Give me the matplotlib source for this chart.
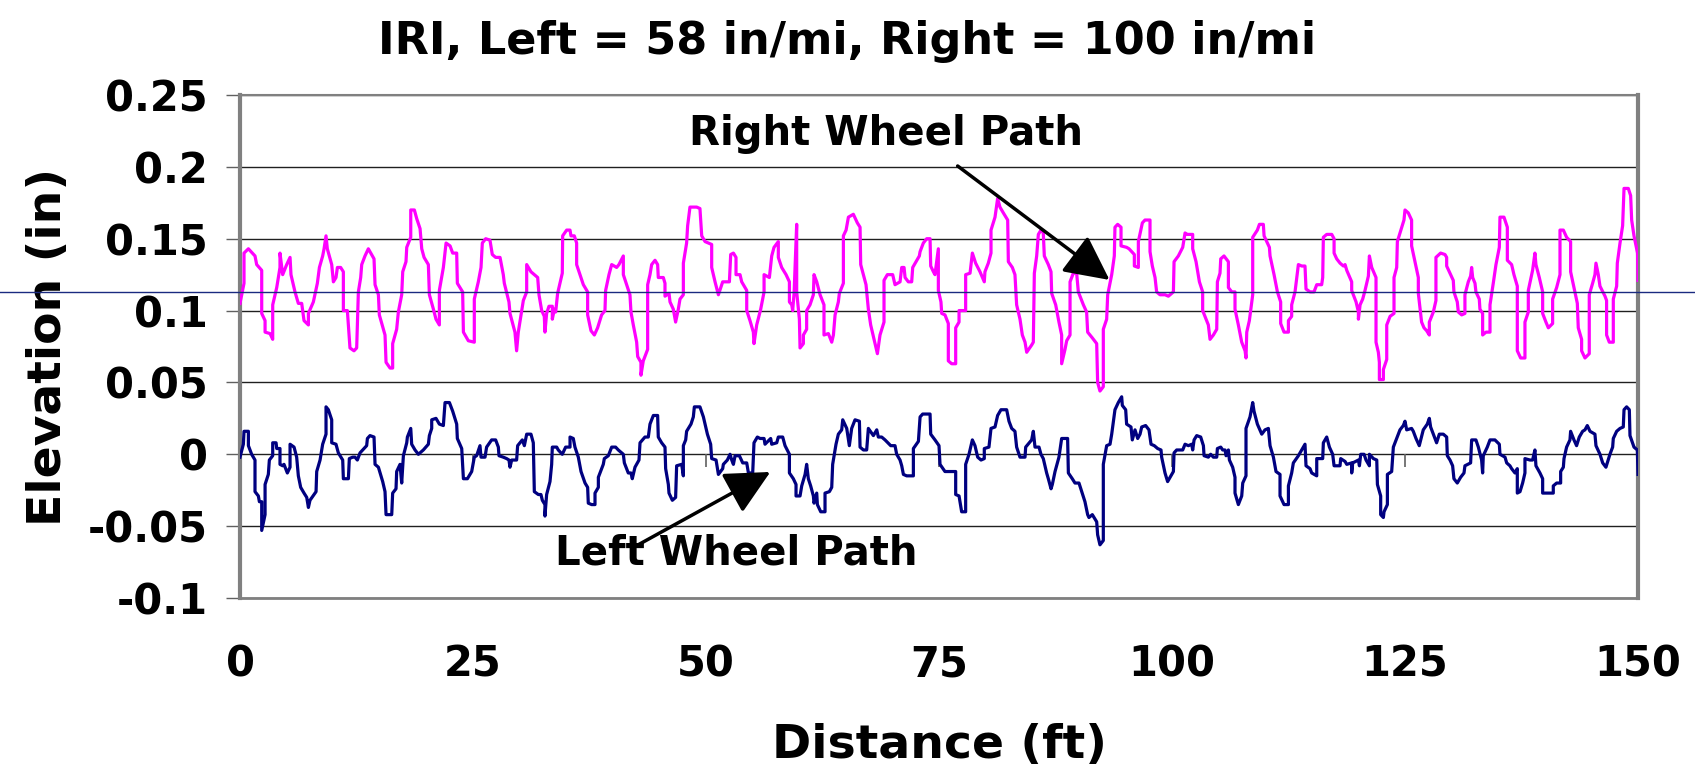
import matplotlib
matplotlib.use('Agg')
import matplotlib.pyplot as plt
from matplotlib.transforms import blended_transform_factory
from matplotlib.lines import Line2D

# Right wheel path profile (distance ft, elevation in)
right_x = [
    0.00, 0.43, 0.43, 0.90, 1.61, 1.79, 2.33, 2.33, 2.69, 2.69, 3.22, 3.51, 3.51, 3.94, 4.29, 4.29,
    4.58, 5.01, 5.37, 5.47, 5.90, 6.26, 6.62, 6.87, 7.34, 7.34, 7.87, 8.30, 8.52, 8.87, 9.02, 9.23,
    9.37, 9.84, 10.02, 10.30, 10.45, 10.80, 11.09, 11.09, 11.52, 11.80, 12.23, 12.52, 12.70, 12.95,
    13.06, 13.41, 13.77, 14.38, 14.49, 14.85, 14.95, 15.56, 15.67, 16.10, 16.38, 16.38, 16.81, 16.99,
    17.35, 17.46, 17.81, 17.89, 18.32, 18.32, 18.71, 18.96, 19.32, 19.50, 19.75, 20.21, 20.32, 20.75,
    21.03, 21.39, 21.39, 21.82, 22.11, 22.54, 22.82, 23.25, 23.32, 23.89, 23.97,
    24.50, 25.14, 25.14, 25.57, 25.86, 26.00, 26.36, 26.82, 27.07, 27.43, 27.90, 28.25, 28.36, 28.86,
    28.97, 29.50, 29.68, 29.86, 30.40, 30.76, 30.76, 31.22, 31.94, 32.08, 32.37, 32.65, 32.72, 32.90,
    33.15, 33.51, 33.51, 33.73, 33.87, 34.08, 34.58, 34.62, 35.05, 35.41, 35.51, 35.87, 36.12, 36.12,
    36.48, 36.84, 37.30, 37.30, 37.66, 38.02, 38.37, 38.80, 39.16, 39.23, 39.59, 39.88, 40.16, 40.41,
    40.66, 41.13, 41.13, 41.49, 41.84, 41.95, 42.20, 42.56, 42.67, 43.02, 43.02, 43.27, 43.74, 43.74,
    43.99, 44.17, 44.53, 44.81, 44.88, 45.42, 45.60, 45.60, 46.03, 46.14, 46.49, 46.74, 47.03, 47.21,
    47.57, 47.57, 47.92, 48.03, 48.28, 49.00, 49.35,
    49.54, 49.90, 50.61, 50.61, 50.97, 51.33, 51.79, 52.51, 52.65, 52.94, 53.22, 53.22, 53.65, 53.83,
    54.37, 54.37, 54.72, 55.08, 55.15, 55.44, 55.87, 56.23, 56.23, 56.80, 57.05, 57.30, 57.76, 57.76,
    58.12, 58.59, 58.95, 58.95, 59.20, 59.30, 59.45, 59.73, 59.73, 60.02, 60.09, 60.45, 60.45, 60.80,
    60.80, 61.16, 61.52, 61.59, 61.88, 62.24, 62.66, 62.66, 63.13, 63.49, 63.67, 63.85, 64.20, 64.31,
    64.74, 64.74, 65.03, 65.28, 65.81, 66.24, 66.53, 66.60, 67.17, 67.42, 67.67, 68.03, 68.39, 68.67,
    69.10, 69.10, 69.46, 70.03, 70.28, 70.82, 71.00, 71.25, 71.36, 71.71, 72.07, 72.18, 72.54, 72.89,
    72.97, 73.32, 73.68, 74.04, 74.11, 74.40, 74.57,
    74.93, 74.93, 75.21, 75.29, 75.64, 76.00, 76.00, 76.36, 76.79, 76.79, 77.15, 77.15, 77.86, 77.86,
    78.33, 78.58, 78.93, 79.40, 79.86, 79.93, 80.29, 80.58, 80.58, 81.01, 81.29, 81.54, 81.90, 82.37,
    82.44, 82.87, 83.15, 83.33, 83.69, 83.94, 84.23, 84.41, 84.94, 85.12, 85.23, 85.48, 85.66, 85.94,
    86.19, 86.30, 86.73, 87.02, 87.09, 87.52, 87.87, 88.16, 88.16, 88.52, 88.70, 89.06, 89.06, 89.41,
    89.77, 89.95, 90.49, 90.84, 90.95, 91.45, 91.92, 92.02, 92.27, 92.63, 92.63, 92.99, 93.10, 93.53,
    93.81, 93.88, 94.17, 94.53, 94.53, 95.13, 95.39, 95.96, 95.96, 96.39, 96.39, 96.82, 97.10, 97.64,
    97.64, 97.89, 98.18, 98.35, 98.71, 99.25, 99.61,
    100.15, 100.22, 100.68, 101.15, 101.40, 101.65, 102.22, 102.22, 102.58, 102.94, 103.29, 103.29,
    103.65, 103.90, 104.08, 104.44, 104.80, 104.87, 105.15, 105.23, 105.58, 106.05, 106.05, 106.41,
    106.76, 106.76, 107.12, 107.48, 107.84, 107.94, 108.02, 108.30, 108.66, 108.66, 109.16, 109.38,
    109.80, 109.88, 110.45, 110.52, 110.95, 111.31, 111.66, 111.66, 112.02, 112.49, 112.49, 112.84,
    112.84, 113.20, 113.56, 113.92, 114.27, 114.38, 114.81, 115.24, 115.53, 116.06, 116.17, 116.24,
    116.60, 117.14, 117.39, 117.39, 117.67, 118.03, 118.39, 118.57, 118.75, 119.28, 119.28, 119.75,
    120.00, 120.00, 120.18, 120.46, 120.71, 121.07, 121.18, 121.43, 121.89, 121.89, 122.14, 122.25,
    122.25, 122.68, 122.68, 123.04, 123.04, 123.40, 123.82, 123.82, 124.11, 124.18,
    124.89, 125.00, 125.35, 125.71, 125.71, 126.07, 126.43, 126.43, 126.78, 127.04, 127.32, 127.61,
    127.61, 128.04, 128.32, 128.32, 128.82, 129.29, 129.47, 129.47, 129.75, 130.18, 130.25, 130.61,
    130.72, 131.08, 131.43, 131.43, 131.79, 132.04, 132.15, 132.26, 132.51, 132.61, 132.97, 133.04,
    133.33, 133.33, 133.69, 134.12, 134.12, 134.47, 134.76, 135.12, 135.19, 135.62, 135.98, 135.98,
    136.44, 136.69, 137.05, 137.05, 137.41, 137.87, 137.87, 138.23, 138.23, 138.69, 138.94, 139.05,
    139.41, 139.77, 139.77, 140.12, 140.38, 140.84, 140.84, 141.27, 141.63, 141.63, 141.99, 142.34,
    142.77, 142.77, 143.13, 143.49, 143.59, 143.95, 143.95, 144.31, 144.77, 144.77, 145.13, 145.38,
    145.49, 145.74, 145.92, 146.46, 146.63, 146.63, 146.92, 147.35, 147.35, 147.71, 147.78, 148.07,
    148.35, 148.50, 148.96, 149.21, 149.32, 149.57, 149.95, 150.00,
]
right_y = [
    0.105, 0.119, 0.140, 0.143, 0.138, 0.132, 0.128, 0.098, 0.093, 0.085, 0.084, 0.080, 0.104, 0.116, 0.130, 0.140,
    0.125, 0.132, 0.137, 0.125, 0.113, 0.105, 0.105, 0.093, 0.090, 0.098, 0.106, 0.119, 0.130, 0.138, 0.143, 0.152,
    0.143, 0.132, 0.120, 0.123, 0.130, 0.130, 0.127, 0.100, 0.100, 0.074, 0.072, 0.074, 0.113, 0.123,
    0.132, 0.138, 0.143, 0.136, 0.118, 0.111, 0.097, 0.083, 0.064, 0.060, 0.060, 0.077, 0.087, 0.099,
    0.111, 0.127, 0.134, 0.144, 0.151, 0.170, 0.170, 0.164, 0.157, 0.143, 0.137, 0.132, 0.111, 0.101,
    0.094, 0.090, 0.114, 0.130, 0.147, 0.145, 0.140, 0.140, 0.119, 0.113, 0.085,
    0.079, 0.078, 0.108, 0.120, 0.130, 0.147, 0.150, 0.149, 0.139, 0.137, 0.137, 0.125, 0.119, 0.106,
    0.098, 0.085, 0.072, 0.085, 0.107, 0.113, 0.132, 0.127, 0.123, 0.111, 0.100, 0.096, 0.085, 0.098,
    0.103, 0.103, 0.094, 0.101, 0.099, 0.112, 0.126, 0.152, 0.156, 0.156, 0.152, 0.152, 0.147, 0.132,
    0.125, 0.118, 0.113, 0.097, 0.086, 0.083, 0.088, 0.097, 0.100, 0.114, 0.125, 0.132, 0.131, 0.130,
    0.132, 0.138, 0.125, 0.118, 0.111, 0.099, 0.090, 0.078, 0.068, 0.064, 0.055, 0.065, 0.073, 0.118,
    0.125, 0.132, 0.135, 0.132, 0.123, 0.123, 0.119, 0.110, 0.112, 0.106, 0.101, 0.092, 0.101, 0.108,
    0.111, 0.133, 0.147, 0.159, 0.172, 0.172, 0.171,
    0.152, 0.148, 0.146, 0.130, 0.120, 0.111, 0.120, 0.120, 0.139, 0.140, 0.137, 0.125, 0.125, 0.120,
    0.114, 0.100, 0.093, 0.085, 0.077, 0.090, 0.101, 0.113, 0.125, 0.123, 0.138, 0.144, 0.148, 0.137,
    0.130, 0.125, 0.120, 0.106, 0.104, 0.100, 0.112, 0.160, 0.113, 0.094, 0.074, 0.077, 0.083, 0.087,
    0.100, 0.104, 0.111, 0.125, 0.120, 0.111, 0.104, 0.083, 0.084, 0.078, 0.083, 0.097, 0.106, 0.112,
    0.119, 0.152, 0.156, 0.165, 0.167, 0.161, 0.158, 0.132, 0.118, 0.101, 0.090, 0.080, 0.070, 0.083,
    0.092, 0.121, 0.125, 0.125, 0.118, 0.120, 0.130, 0.130, 0.123, 0.120, 0.120, 0.130, 0.134, 0.138,
    0.141, 0.147, 0.150, 0.150, 0.131, 0.127, 0.125,
    0.143, 0.114, 0.106, 0.098, 0.097, 0.091, 0.065, 0.063, 0.063, 0.088, 0.092, 0.100, 0.100, 0.125,
    0.126, 0.140, 0.133, 0.127, 0.120, 0.127, 0.133, 0.140, 0.156, 0.165, 0.178, 0.172, 0.168, 0.163,
    0.134, 0.130, 0.125, 0.104, 0.094, 0.083, 0.078, 0.071, 0.076, 0.078, 0.126, 0.138, 0.153, 0.156,
    0.154, 0.138, 0.132, 0.127, 0.112, 0.104, 0.092, 0.083, 0.063, 0.073, 0.079, 0.083, 0.120, 0.126,
    0.126, 0.113, 0.104, 0.099, 0.085, 0.081, 0.077, 0.050, 0.044, 0.047, 0.087, 0.094, 0.111, 0.125,
    0.138, 0.158, 0.160, 0.158, 0.145, 0.144, 0.143, 0.139, 0.131, 0.130, 0.148, 0.161, 0.163, 0.163,
    0.141, 0.131, 0.123, 0.113, 0.111, 0.111, 0.110,
    0.113, 0.134, 0.138, 0.144, 0.154, 0.153, 0.153, 0.143, 0.134, 0.120, 0.113, 0.100,
    0.094, 0.090, 0.080, 0.083, 0.087, 0.120, 0.126, 0.136, 0.138, 0.134, 0.116, 0.113,
    0.113, 0.101, 0.090, 0.078, 0.072, 0.067, 0.085, 0.093, 0.111, 0.151, 0.156, 0.160,
    0.160, 0.152, 0.144, 0.138, 0.125, 0.113, 0.106, 0.091, 0.085, 0.085, 0.093, 0.096,
    0.104, 0.113, 0.132, 0.131, 0.131, 0.115, 0.113, 0.113, 0.118, 0.118, 0.123, 0.151,
    0.153, 0.153, 0.150, 0.140, 0.136, 0.133, 0.131, 0.132, 0.128, 0.120, 0.114, 0.106,
    0.099, 0.094, 0.104, 0.108, 0.114, 0.124, 0.138, 0.130, 0.123, 0.078, 0.071, 0.064,
    0.052, 0.052, 0.059, 0.066, 0.090, 0.096, 0.098, 0.123, 0.130, 0.148,
    0.163, 0.170, 0.168, 0.163, 0.145, 0.134, 0.123, 0.112, 0.092, 0.088, 0.086, 0.083,
    0.092, 0.099, 0.107, 0.137, 0.140, 0.139, 0.137, 0.131, 0.127, 0.121, 0.113, 0.106,
    0.099, 0.097, 0.098, 0.111, 0.120, 0.124, 0.130, 0.123, 0.119, 0.113, 0.108, 0.101,
    0.098, 0.083, 0.085, 0.085, 0.104, 0.119, 0.132, 0.144, 0.165, 0.165, 0.158, 0.135,
    0.132, 0.125, 0.117, 0.072, 0.067, 0.067, 0.092, 0.099, 0.114, 0.128, 0.140, 0.132,
    0.123, 0.113, 0.098, 0.092, 0.088, 0.091, 0.108, 0.116, 0.125, 0.156, 0.156, 0.151,
    0.148, 0.127, 0.116, 0.105, 0.088, 0.080, 0.072, 0.067, 0.070, 0.111, 0.119, 0.125,
    0.133, 0.125, 0.117, 0.110, 0.107, 0.083, 0.078, 0.078, 0.108, 0.117, 0.133, 0.147,
    0.159, 0.185, 0.185, 0.180, 0.163, 0.152, 0.140, 0.121,
]

# Left wheel path profile
left_x = [
    0.00, 0.36, 0.43, 0.90, 0.90, 1.25, 1.61, 1.61, 1.97, 2.08, 2.33, 2.33, 2.69, 2.69, 3.04, 3.15,
    3.51, 3.51, 3.87, 3.94, 4.29, 4.29, 4.58, 4.72, 5.08, 5.37, 5.37, 5.80, 6.08, 6.26, 6.51, 6.87,
    7.16, 7.34, 7.51, 8.16, 8.23, 8.59, 8.87, 9.23, 9.23, 9.48, 9.84, 9.84, 10.30, 10.55, 11.02, 11.09,
    11.63, 11.73, 12.09, 12.34, 12.59, 12.88, 13.59, 13.67, 13.95, 14.38, 14.49, 14.85, 15.31, 15.56,
    15.67, 16.28, 16.38, 16.74, 16.81, 17.17, 17.35, 17.53, 17.89, 17.96, 18.32, 18.42, 18.78, 19.14,
    19.67, 20.21, 20.32, 20.57, 20.57, 21.03, 21.39, 21.82, 22.00, 22.47, 22.82, 23.25, 23.32, 23.79,
    23.97, 24.40,
    24.86, 25.14, 25.39, 25.75, 25.86, 26.29, 26.46, 27.00, 27.43, 27.72, 27.79, 28.25, 28.61, 28.86,
    28.97, 29.15, 29.68, 29.79, 30.29, 30.51, 30.76, 31.22, 31.47, 31.58, 32.01, 32.29, 32.44, 32.72,
    32.72, 32.90, 33.26, 33.44, 33.51, 33.98, 34.15, 34.58, 34.94, 35.41, 35.41, 35.76, 35.94, 36.30,
    36.59, 37.02, 37.30, 37.37, 37.73, 38.09, 38.09, 38.45, 38.45, 38.98, 39.09, 39.52, 39.88, 40.30,
    40.59, 41.13, 41.24, 41.66, 41.95, 42.09, 42.38, 42.81, 42.92, 43.45, 43.81, 43.99, 44.35, 44.81,
    44.88, 45.24, 45.60, 45.67, 45.96, 46.03, 46.39, 46.74, 46.85, 47.39, 47.57, 47.57, 47.82, 47.92,
    48.39, 48.64, 48.75, 49.35,
    49.72, 50.15, 50.50, 50.61, 51.08, 51.33, 51.79, 51.86, 52.29, 52.58, 52.76, 52.94, 53.12, 53.58,
    53.94, 54.37, 54.55, 55.01, 55.15, 55.51, 55.80, 56.23, 56.33, 56.94, 57.05, 57.59, 57.76, 58.23,
    58.48, 58.95, 58.95, 59.37, 59.66, 59.66, 60.09, 60.27, 60.63, 60.80, 60.98, 61.23, 61.52, 61.59,
    61.88, 61.95, 62.31, 62.77, 62.77, 63.24, 63.49, 63.59, 63.95, 64.20, 64.56, 64.67, 65.10, 65.38,
    65.63, 65.99, 66.46, 66.53, 66.89, 67.24, 67.42, 67.96, 68.32, 68.49, 68.85, 69.21, 69.82, 70.28,
    70.46, 70.82, 71.00, 71.18, 71.53, 72.25, 72.25, 72.79, 72.97, 73.25, 74.04, 74.11,
    74.57, 75.00, 75.11, 75.64, 76.07, 76.79, 76.79, 77.15, 77.43, 77.86, 77.86, 78.22, 78.58, 78.86,
    79.15, 79.51, 79.86, 79.86, 80.36, 80.58, 81.01, 81.29, 81.65, 82.26, 82.51, 82.80, 83.15, 83.33,
    83.69, 84.23, 84.30, 84.94, 85.12, 85.30, 85.73, 85.94, 86.19, 86.55, 86.73, 87.02, 87.16, 87.45,
    87.87, 88.16, 88.80, 88.88, 89.30, 89.59, 90.02, 90.31, 90.66, 90.95, 91.09, 91.45, 91.92, 92.02,
    92.27, 92.63, 92.63, 92.99, 93.35, 93.53, 93.88, 94.24, 94.60, 94.67, 95.03, 95.13, 95.60, 95.74,
    96.03, 96.32, 96.57, 96.75, 97.17, 97.53, 97.75, 98.10, 98.46, 98.82, 98.89, 99.25, 99.53,
    99.79, 100.15, 100.22, 100.50, 101.15, 101.40, 101.76, 102.11, 102.22, 102.37, 102.65, 103.08,
    103.37, 103.44, 103.90, 104.15, 104.44, 104.80, 104.87, 105.23, 105.44, 105.69, 105.80, 106.05,
    106.16, 106.51, 106.76, 106.76, 107.12, 107.48, 107.59, 107.94, 107.94, 108.37, 108.66, 108.80,
    109.16, 109.63, 109.98, 110.34, 110.52, 110.88, 111.16, 111.59, 111.59, 112.02, 112.49, 112.49,
    112.84, 113.02, 113.56, 113.92, 114.27, 114.38, 114.81, 114.99, 115.53, 115.53, 116.17, 116.24,
    116.60, 116.89, 117.24, 117.39, 118.03, 118.10, 118.57, 118.75, 119.28, 119.28, 119.39, 120.00,
    120.11, 120.25, 120.61, 120.82, 121.18, 121.18, 121.61, 121.97, 122.04, 122.39, 122.39, 122.68,
    122.75, 123.11, 123.11, 123.57, 123.75, 124.11,
    124.46, 124.82, 125.00, 125.18, 125.71, 125.89, 126.18, 126.53, 126.96, 127.39, 127.61, 127.75,
    128.39, 128.68, 129.11, 129.47, 129.54, 129.83, 130.11, 130.25, 130.61, 130.97, 131.33, 131.43,
    132.04, 132.15, 132.61, 132.87, 133.22, 133.33, 133.40, 133.83, 134.12, 134.65, 135.12, 135.19,
    135.73, 135.91, 136.26, 136.44, 136.80, 137.05, 137.05, 137.34, 137.62, 137.87, 137.87, 138.41,
    138.69, 138.94, 139.05, 139.48, 139.77, 139.77, 140.91, 140.91, 141.27, 141.70, 141.70, 141.99,
    142.06, 142.34, 142.70, 142.77, 143.13, 143.41, 143.70, 144.06, 144.31, 144.56, 144.85, 145.38,
    145.49, 145.92, 146.21, 146.56, 146.99, 147.28, 147.35, 147.71, 148.07, 148.42, 148.50, 148.78,
    149.07, 149.14, 149.57, 149.93, 150.00,
]
left_y = [
    -0.002, 0.007, 0.016, 0.016, 0.006, 0.000, -0.004, -0.026, -0.029, -0.033, -0.033, -0.053, -0.042, -0.021, -0.014, -0.004,
    -0.001, 0.008, 0.008, 0.004, 0.004, -0.007, -0.008, -0.007, -0.013, -0.009, 0.007, 0.005, -0.002, -0.015, -0.023, -0.027,
    -0.030, -0.037, -0.032, -0.026, -0.012, -0.004, 0.007, 0.014, 0.033, 0.031, 0.024, 0.008, 0.007, 0.001, -0.004, -0.017,
    -0.017, -0.003, -0.002, -0.002, -0.004, 0.001, 0.006, 0.011, 0.013, 0.012, -0.007, -0.009, -0.019, -0.026,
    -0.042, -0.042, -0.027, -0.024, -0.012, -0.007, -0.020, -0.001, 0.008, 0.012, 0.018, 0.007, 0.003, 0.000,
    0.003, 0.007, 0.013, 0.018, 0.024, 0.025, 0.021, 0.020, 0.036, 0.036, 0.030, 0.021, 0.011, 0.004,
    -0.017, -0.017,
    -0.012, -0.002, -0.001, 0.006, -0.002, -0.002, 0.005, 0.010, 0.010, 0.005, -0.001, -0.002, -0.003, -0.004,
    -0.009, -0.004, -0.004, 0.006, 0.010, 0.006, 0.014, 0.014, 0.008, -0.026, -0.028, -0.028, -0.032, -0.035,
    -0.043, -0.028, -0.019, -0.007, 0.005, 0.005, 0.003, 0.000, 0.005, 0.005, 0.012, 0.011, 0.005, -0.002,
    -0.012, -0.020, -0.023, -0.034, -0.035, -0.035, -0.027, -0.023, -0.016, -0.007, -0.003, -0.001, 0.005, 0.005,
    0.003, 0.000, -0.006, -0.013, -0.013, -0.017, -0.009, -0.004, 0.008, 0.012, 0.012, 0.021, 0.027, 0.027,
    0.012, 0.008, 0.005, -0.010, -0.021, -0.027, -0.032, -0.030, -0.008, -0.007, -0.015, 0.006, 0.010, 0.016,
    0.021, 0.026, 0.033, 0.033,
    0.026, 0.014, 0.007, -0.003, -0.004, -0.014, -0.010, -0.007, -0.004, 0.000, -0.004, -0.007, -0.001, -0.001,
    -0.006, -0.006, -0.013, -0.013, 0.008, 0.012, 0.011, 0.011, 0.007, 0.011, 0.007, 0.008, 0.012, 0.012,
    0.006, 0.000, -0.013, -0.017, -0.021, -0.029, -0.029, -0.022, -0.014, -0.007, -0.017, -0.022, -0.029, -0.034,
    -0.027, -0.035, -0.040, -0.040, -0.027, -0.026, -0.023, -0.007, 0.007, 0.014, 0.017, 0.024, 0.018, 0.006,
    0.018, 0.024, 0.023, 0.005, 0.003, 0.003, 0.018, 0.013, 0.017, 0.012, 0.012, 0.010, 0.006, 0.006,
    0.000, -0.004, -0.008, -0.014, -0.015, -0.015, 0.004, 0.009, 0.026, 0.028, 0.028, 0.014,
    0.010, 0.006, -0.007, -0.012, -0.012, -0.012, -0.028, -0.029, -0.040, -0.040, -0.007, 0.000, 0.010, 0.006,
    -0.002, -0.004, -0.003, 0.004, 0.005, 0.018, 0.019, 0.027, 0.031, 0.031, 0.023, 0.018, 0.016, 0.005,
    -0.002, -0.002, 0.005, 0.010, 0.016, 0.005, 0.005, 0.000, -0.003, -0.013, -0.017, -0.024, -0.021, -0.012,
    -0.002, 0.011, 0.011, -0.013, -0.017, -0.020, -0.020, -0.026, -0.033, -0.042, -0.044, -0.042, -0.047, -0.056,
    -0.063, -0.060, -0.007, 0.006, 0.007, 0.014, 0.031, 0.036, 0.040, 0.034, 0.031, 0.021, 0.019, 0.010,
    0.017, 0.011, 0.014, 0.019, 0.020, 0.017, 0.007, 0.006, 0.004, 0.003, -0.002, -0.013, -0.019,
    -0.016, -0.012, 0.001, 0.003, 0.003, 0.007, 0.006, 0.007, 0.003, 0.010, 0.013, 0.012,
    0.006, -0.001, -0.002, 0.000, -0.002, -0.002, 0.004, 0.005, 0.003, 0.003, -0.001, 0.003,
    -0.004, -0.009, -0.016, -0.027, -0.035, -0.029, -0.020, -0.015, 0.018, 0.026, 0.036, 0.030,
    0.021, 0.014, 0.017, 0.018, 0.006, -0.002, -0.012, -0.014, -0.029, -0.035, -0.035, -0.022,
    -0.013, -0.006, -0.001, 0.003, 0.007, -0.008, -0.010, -0.013, -0.015, -0.003, -0.003, 0.008,
    0.012, 0.005, 0.000, -0.008, -0.008, -0.003, -0.005, -0.007, -0.006, -0.013, -0.006, -0.004,
    -0.008, 0.000, 0.000, -0.004, -0.008, 0.000, -0.003, -0.004, -0.021, -0.029, -0.042, -0.044,
    -0.040, -0.035, -0.014, -0.012, 0.005, 0.011,
    0.017, 0.020, 0.023, 0.017, 0.018, 0.016, 0.011, 0.006, 0.017, 0.021, 0.025, 0.019,
    0.008, 0.014, 0.014, 0.012, -0.001, -0.004, -0.008, -0.017, -0.020, -0.016, -0.013, -0.008,
    -0.006, 0.010, 0.010, 0.005, -0.004, -0.013, -0.001, 0.005, 0.010, 0.010, 0.007, 0.000,
    -0.002, -0.006, -0.008, -0.010, -0.013, -0.010, -0.027, -0.026, -0.020, -0.013, -0.003, -0.004,
    -0.004, 0.003, -0.008, -0.013, -0.017, -0.027, -0.027, -0.022, -0.020, -0.020, -0.012, -0.009,
    -0.003, 0.005, 0.010, 0.016, 0.010, 0.006, 0.012, 0.016, 0.017, 0.020, 0.016, 0.014,
    0.006, 0.000, -0.006, -0.009, 0.000, 0.005, 0.011, 0.016, 0.018, 0.019, 0.031, 0.033,
    0.031, 0.013, 0.005, 0.003, -0.014,
]

x_ticks = [0, 25, 50, 75, 100, 125, 150]
y_ticks = [-0.1, -0.05, 0, 0.05, 0.1, 0.15, 0.2, 0.25]
y_labels = ['-0.1', '-0.05', '0', '0.05', '0.1', '0.15', '0.2', '0.25']

plt.rcParams['font.family'] = 'DejaVu Sans'
plt.rcParams['font.weight'] = 'bold'

fig = plt.figure(figsize=(16.95, 7.74), dpi=100)
ax = fig.add_axes([240 / 1695, 1 - 598 / 774, 1398 / 1695, 503 / 774])

ax.plot(right_x, right_y, color='#FF00FF', lw=2.3, zorder=3)
ax.plot(left_x, left_y, color='#000080', lw=2.3, zorder=3)

ax.set_xlim(0, 150)
ax.set_ylim(-0.1, 0.25)
ax.set_yticks(y_ticks)
ax.set_yticklabels(y_labels)
ax.set_xticks(x_ticks)
ax.set_xticklabels([str(t) for t in x_ticks])

ax.grid(axis='y', color='#202020', lw=1.0)
ax.set_axisbelow(True)
for side in ['left', 'right', 'top', 'bottom']:
    ax.spines[side].set_color('#808080')
ax.spines['left'].set_linewidth(3)
ax.spines['right'].set_linewidth(3)
ax.spines['top'].set_linewidth(1.5)
ax.spines['bottom'].set_linewidth(2)

ax.tick_params(axis='y', length=10, width=1, color='#606060', pad=13, labelsize=30)
ax.tick_params(axis='x', length=0, pad=33, labelsize=30)

# Excel-style category ticks sitting on the zero line
ax.plot(x_ticks[1:-1], [0] * (len(x_ticks) - 2), ls='none', marker=3, ms=9,
        mew=1.2, color='#606060', zorder=2)

ax.set_xlabel('Distance (ft)', fontsize=34, fontweight='bold', labelpad=27)
ax.set_ylabel('Elevation (in)', fontsize=34, fontweight='bold')
ax.yaxis.set_label_coords(-0.121, 0.5)
fig.suptitle('IRI, Left = 58 in/mi, Right = 100 in/mi', fontsize=32, fontweight='bold',
             x=0.5, y=0.947, va='center')

arrow = dict(arrowstyle='-|>,head_length=0.5,head_width=0.25', color='black', lw=2.5,
             mutation_scale=55, shrinkA=0, shrinkB=0)
ax.text(69.3, 0.2152, 'Right Wheel Path', fontsize=29, fontweight='bold',
        ha='center', va='baseline', zorder=5)
ax.annotate('', xy=(93.3, 0.1213), xytext=(77.0, 0.2006), arrowprops=arrow, zorder=5)
ax.text(53.2, -0.077, 'Left Wheel Path', fontsize=29, fontweight='bold',
        ha='center', va='baseline', zorder=5)
ax.annotate('', xy=(56.9, -0.0123), xytext=(42.3, -0.0645), arrowprops=arrow, zorder=6)

# stray horizontal rule across the whole image
trans = blended_transform_factory(fig.transFigure, ax.transData)
fig.add_artist(Line2D([0, 1], [0.1127, 0.1127], transform=trans, color='#1a2a80', lw=1.0))

fig.savefig('out.png', dpi=100)
